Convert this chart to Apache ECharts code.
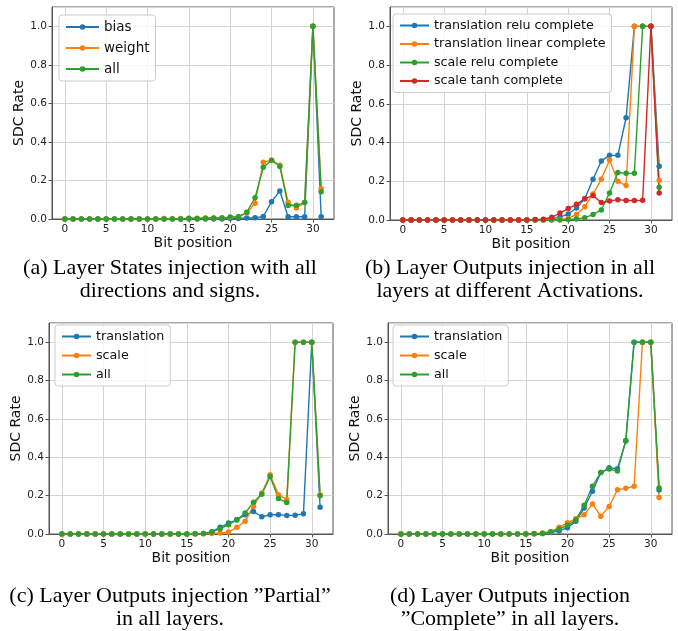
<html>
<head>
<meta charset="utf-8">
<script src="https://cdn.jsdelivr.net/npm/echarts@6/dist/echarts.min.js"></script>
<style>
html, body { margin: 0; padding: 0; background: #ffffff; }
#chart { width: 678px; height: 631px; }
</style>
<title>SDC rate per bit position</title>
</head>
<body>
<div id="chart"></div>
<script>
///////////////////////////////////////////////////////////////////////////////
// data (index = bit position 0..31)
var bits = [0,1,2,3,4,5,6,7,8,9,10,11,12,13,14,15,16,17,18,19,20,21,22,23,24,25,26,27,28,29,30,31];
var x_ticks = [0, 5, 10, 15, 20, 25, 30];

// (a) layer states
var a_bias   = [0,0,0,0,0,0,0,0,0,0,0,0,0,0,0,0,0,0,0,0,0.002,0.003,0.005,0.006,0.013,0.09,0.145,0.012,0.012,0.012,1.0,0.012];
var a_weight = [0,0,0,0,0,0,0,0,0,0,0,0,0.002,0.001,0.002,0.003,0.004,0.005,0.005,0.006,0.008,0.012,0.03,0.082,0.294,0.305,0.279,0.087,0.057,0.085,1.0,0.158];
var a_all    = [0,0,0,0,0,0,0,0,0,0,0,0,0,0,0,0.004,0.003,0.004,0.005,0.005,0.01,0.012,0.035,0.11,0.268,0.305,0.273,0.07,0.071,0.085,1.0,0.141];

// (b) layer outputs, activations
var b_trelu   = [0,0,0,0,0,0,0,0,0,0,0,0,0,0,0,0,0.001,0.002,0.005,0.015,0.031,0.062,0.11,0.21,0.305,0.334,0.334,0.528,1.0,1.0,1.0,0.278];
var b_tlinear = [0,0,0,0,0,0,0,0,0,0,0,0,0,0,0,0,0,0,0.001,0.003,0.008,0.029,0.069,0.134,0.21,0.31,0.2,0.178,1.0,1.0,1.0,0.205];
var b_srelu   = [0,0,0,0,0,0,0,0,0,0,0,0,0,0,0,0,0,0,0,0,0.002,0.005,0.012,0.028,0.052,0.14,0.245,0.241,0.241,1.0,1.0,0.169];
var b_stanh   = [0,0,0,0,0,0,0,0,0,0,0,0,0,0,0,0,0.002,0.004,0.014,0.036,0.059,0.081,0.11,0.126,0.09,0.098,0.105,0.101,0.101,0.102,1.0,0.14];

// (c) partial
var c_trans = [0,0,0,0,0,0,0,0,0,0,0,0,0,0,0,0,0.001,0.003,0.012,0.035,0.057,0.074,0.1,0.117,0.09,0.1,0.1,0.097,0.098,0.105,1.0,0.14];
var c_scale = [0,0,0,0,0,0,0,0,0,0,0,0,0,0,0,0,0,0.001,0.003,0.005,0.01,0.035,0.066,0.145,0.214,0.309,0.204,0.18,1.0,1.0,1.0,0.205];
var c_all   = [0,0,0,0,0,0,0,0,0,0,0,0,0,0,0,0,0.001,0.003,0.01,0.028,0.048,0.073,0.109,0.166,0.207,0.3,0.185,0.164,1.0,1.0,1.0,0.2];

// (d) complete
var d_trans = [0,0,0,0,0,0,0,0,0,0,0,0,0,0,0,0,0.001,0.003,0.008,0.016,0.033,0.066,0.135,0.223,0.32,0.345,0.34,0.485,1.0,1.0,1.0,0.23];
var d_scale = [0,0,0,0,0,0,0,0,0,0,0,0,0,0,0,0,0.002,0.005,0.012,0.035,0.059,0.079,0.1,0.157,0.093,0.143,0.231,0.238,0.249,1.0,1.0,0.19];
var d_all   = [0,0,0,0,0,0,0,0,0,0,0,0,0,0,0,0,0.001,0.003,0.012,0.026,0.045,0.074,0.15,0.249,0.321,0.339,0.328,0.487,1.0,1.0,1.0,0.24];

var captions = [
	["(a) Layer States injection with all", "directions and signs."],
	["(b) Layer Outputs injection in all", "layers at different Activations."],
	["(c) Layer Outputs injection \u201dPartial\u201d", "in all layers."],
	["(d) Layer Outputs injection", "\u201dComplete\u201d in all layers."]
];

///////////////////////////////////////////////////////////////////////////////
// styling
var C_BLUE = '#1f77b4', C_ORANGE = '#ff7f0e', C_GREEN = '#2ca02c', C_RED = '#d62728';
var SANS = 'DejaVu Sans';

var grids = [
	{left: 52,  top: 7,   width: 282, height: 212},
	{left: 390, top: 7,   width: 282, height: 213},
	{left: 49,  top: 323, width: 284, height: 211},
	{left: 388, top: 323, width: 284, height: 211}
];

function pairs(vals) {
	var out = [];
	for (var i = 0; i < bits.length; i++) out.push([bits[i], vals[i]]);
	return out;
}

function line(name, vals, color, idx) {
	return {
		name: name, type: 'line', xAxisIndex: idx, yAxisIndex: idx,
		data: pairs(vals), symbol: 'circle', symbolSize: 5.5,
		color: color, lineStyle: {width: 1.4, color: color},
		itemStyle: {color: color}, animation: false
	};
}

function xaxis(idx) {
	return {
		gridIndex: idx, type: 'value', min: -1.55, max: 32.55,
		name: 'Bit position', nameLocation: 'middle', nameGap: 17,
		nameTextStyle: {fontFamily: SANS, fontSize: 14, color: '#111'},
		axisLine: {show: true, onZero: false, lineStyle: {color: '#555'}},
		axisTick: {show: true, length: 3.5, customValues: x_ticks, lineStyle: {color: '#555'}},
		axisLabel: {customValues: x_ticks, margin: 5, fontFamily: SANS, fontSize: 10.5, color: '#222'},
		splitLine: {show: true, lineStyle: {color: '#d4d4d4', width: 1}}
	};
}

function yaxis(idx) {
	return {
		gridIndex: idx, type: 'value', min: 0, max: 1.1, interval: 0.2,
		name: 'SDC Rate', nameLocation: 'middle', nameGap: 26,
		nameTextStyle: {fontFamily: SANS, fontSize: 14, color: '#111'},
		axisLine: {show: true, onZero: false, lineStyle: {color: '#555'}},
		axisTick: {show: true, length: 3.5, lineStyle: {color: '#555'}},
		axisLabel: {showMaxLabel: false, margin: 5, fontFamily: SANS, fontSize: 10.5, color: '#222',
			formatter: function (v) { return v.toFixed(1); }},
		splitLine: {show: true, lineStyle: {color: '#d4d4d4', width: 1}}
	};
}

function legend(idx, names, left, top, size, iw, gap) {
	return {
		data: names, orient: 'vertical', left: left, top: top,
		padding: [5, 6], itemGap: gap, itemWidth: iw, itemHeight: 7,
		backgroundColor: 'rgba(255,255,255,0.8)', borderColor: '#cccccc', borderWidth: 1, borderRadius: 3,
		textStyle: {fontFamily: SANS, fontSize: size, color: '#111'}
	};
}

///////////////////////////////////////////////////////////////////////////////
// captions
var cap_x = [170, 510, 170, 510];
var cap_y = [268, 268, 596, 596];
var graphics = [];
for (var i = 0; i < captions.length; i++) {
	for (var j = 0; j < 2; j++) {
		graphics.push({
			type: 'text', x: cap_x[i], y: cap_y[i] + j * 23,
			style: {text: captions[i][j], align: 'center', verticalAlign: 'middle',
				font: '22px "Liberation Serif"', fill: '#000'}
		});
	}
}

var option = {
	backgroundColor: '#ffffff',
	animation: false,
	grid: grids.map(function (g) {
		return {left: g.left, top: g.top, width: g.width, height: g.height,
			show: true, borderColor: '#555', borderWidth: 1, backgroundColor: 'transparent'};
	}),
	xAxis: [xaxis(0), xaxis(1), xaxis(2), xaxis(3)],
	yAxis: [yaxis(0), yaxis(1), yaxis(2), yaxis(3)],
	legend: [
		legend(0, ['bias', 'weight', 'all'], 59, 15, 13.5, 33, 7),
		legend(1, ['translation relu complete', 'translation linear complete', 'scale relu complete', 'scale tanh complete'], 393, 14, 12.7, 29, 5.5),
		legend(2, ['translation', 'scale', 'all'], 55, 325, 12.7, 29, 6),
		legend(3, ['translation', 'scale', 'all'], 393, 325, 12.7, 29, 6)
	],
	series: [
		line('bias', a_bias, C_BLUE, 0),
		line('weight', a_weight, C_ORANGE, 0),
		line('all', a_all, C_GREEN, 0),
		line('translation relu complete', b_trelu, C_BLUE, 1),
		line('translation linear complete', b_tlinear, C_ORANGE, 1),
		line('scale relu complete', b_srelu, C_GREEN, 1),
		line('scale tanh complete', b_stanh, C_RED, 1),
		line('translation', c_trans, C_BLUE, 2),
		line('scale', c_scale, C_ORANGE, 2),
		line('all', c_all, C_GREEN, 2),
		line('translation', d_trans, C_BLUE, 3),
		line('scale', d_scale, C_ORANGE, 3),
		line('all', d_all, C_GREEN, 3)
	],
	graphic: graphics
};

var chart = echarts.init(document.getElementById('chart'));
chart.setOption(option);
</script>
</body>
</html>
